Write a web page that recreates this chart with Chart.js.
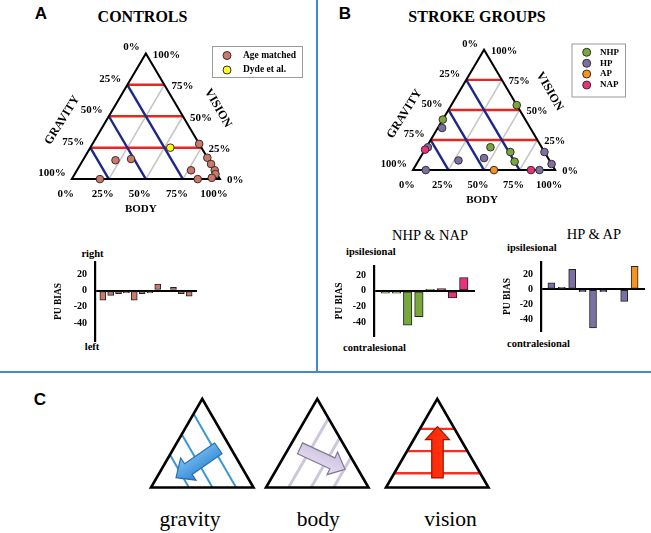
<!DOCTYPE html>
<html><head><meta charset="utf-8">
<script src="https://cdn.jsdelivr.net/npm/chart.js@4/dist/chart.umd.min.js"></script>
<style>
html,body{margin:0;padding:0;background:#fff;}
#wrap{position:relative;width:651px;height:533px;overflow:hidden;background:#fff;}
canvas{position:absolute;}
.t{position:absolute;white-space:nowrap;transform:translate(-50%,-50%);line-height:1;color:#000;font-family:"Liberation Serif","Times New Roman",serif;}
.l{transform:translate(0,-50%);}
.b{font-weight:bold;}
.sans{font-family:"Liberation Sans",Arial,sans-serif;}
.rule{position:absolute;background:#4389cc;}
</style></head><body><div id="wrap">
<div class="rule" style="left:316px;top:0;width:2px;height:372px"></div>
<div class="rule" style="left:0;top:371px;width:651px;height:2px"></div>

<div class="t sans b" style="left:41px;top:12.5px;font-size:17px">A</div>
<div class="t sans b" style="left:345px;top:12.5px;font-size:17px">B</div>
<div class="t sans b" style="left:40px;top:399px;font-size:17px">C</div>
<div class="t b" style="left:142.5px;top:16.7px;font-size:16px">CONTROLS</div>
<div class="t b" style="left:477px;top:16.5px;font-size:16px">STROKE GROUPS</div>

<div class="t b" style="left:92.5px;top:254px;font-size:10.5px">right</div>
<div class="t b" style="left:92px;top:347px;font-size:10.5px">left</div>
<div class="t" style="left:430px;top:234.7px;font-size:14.5px">NHP &amp; NAP</div>
<div class="t" style="left:594px;top:234px;font-size:14.5px">HP &amp; AP</div>
<div class="t l b" style="left:346px;top:251.7px;font-size:10.5px">ipsilesional</div>
<div class="t l b" style="left:507px;top:248.3px;font-size:10.5px">ipsilesional</div>
<div class="t l b" style="left:343px;top:347.7px;font-size:10.5px">contralesional</div>
<div class="t l b" style="left:507px;top:344px;font-size:10.5px">contralesional</div>

<div class="t" style="left:190px;top:520px;font-size:21.5px">gravity</div>
<div class="t" style="left:318.3px;top:520px;font-size:21.5px">body</div>
<div class="t" style="left:450.5px;top:520px;font-size:21.5px">vision</div>

<canvas id="triA"></canvas>
<canvas id="triB"></canvas>
<canvas id="barA"></canvas>
<canvas id="barB1"></canvas>
<canvas id="barB2"></canvas>
<canvas id="schem"></canvas>
</div>
<script>
// ================= DATA =================
const gridLevels = [25, 50, 75];
const tickValues = [0, 25, 50, 75, 100];
const tickLabels = ['0%', '25%', '50%', '75%', '100%'];

// Panel A – controls (percent weights; gravity = 100 - body - vision)
const ctrlBody   = [19, 22, 32, 72, 83, 88, 93, 95, 94, 77, 85];
const ctrlVision = [ 0, 15, 16, 28, 17, 12,  7,  4,  1,  7,  0];
const dydeBody   = [54];
const dydeVision = [25];

// Panel B – stroke groups
const nhpBody   = [0, 46, 45, 61, 68];
const nhpVision = [42, 54, 19, 15, 7];
const hpBody    = [3, 1, 9, 28, 45, 85, 95, 89];
const hpVision  = [35, 19, 0, 8, 10, 15, 5, 0];
const apBody    = [57];
const apVision  = [0];
const napBody   = [0, 83];
const napVision = [17, 0];

// PU bias bar charts
const ctrlBiasLabels = ['', 'C1', 'C2', 'C3', 'C4', 'C5', 'C6', 'C7', 'C8', 'C9', 'C10', 'C11', 'C12', ''];
const ctrlBias       = [null, -12, -6, -4, -3, -12, -4, -3, 8, 0, 4, -4, -7, null];
const nhpNapLabels   = ['', 'NHP1', 'NHP2', 'NHP3', 'NHP4', 'NHP5', 'NAP1', 'NAP2', 'NAP3', ''];
const nhpNapBias     = [null, -3, -3, -44, -33, 2, 3, -9, 17, null];
const hpApLabels     = ['', 'HP1', 'HP2', 'HP3', 'HP4', 'HP5', 'HP6', 'HP7', 'HP8', 'AP1', ''];
const hpApBias       = [null, 9, 3, 27, -3, -52, -3, 0, -16, 31, null];
const biasTicks      = [-40, -20, 0, 20];

// Panel C schematic line levels (fractions)
const cGravityLevels = [0.37, 0.6, 0.83];
const cBodyLevels    = [0.22, 0.44, 0.66];
const cVisionLevels  = [0.16, 0.41, 0.66];

// ================= STYLE =================
const SERIF = '"Liberation Serif", "Times New Roman", serif';
Chart.defaults.font.family = SERIF;
Chart.defaults.color = '#000';
const COL = {
  ctrl: '#c97a6a', dyde: '#ffff1a', nhp: '#77a83c', hp: '#7b70a3', ap: '#f7941d', nap: '#e8327a'
};

const SQ = Math.sqrt(3) / 2;
function tern(b, v) { return { x: (b + v / 2) / 100, y: (v * SQ) / 100 }; }
function pts(bs, vs) { return bs.map((b, i) => tern(b, vs[i])); }
function xRange(p0, ppu, start, size) { const min = (start - p0) / ppu; return { min, max: min + size / ppu }; }
function yRange(pBase, ppu, start, size) { const max = (pBase - start) / ppu; return { min: max - size / ppu, max }; }
function place(cv, box) {
  cv.width = box.w; cv.height = box.h;
  cv.style.left = box.left + 'px'; cv.style.top = box.top + 'px';
  cv.style.width = box.w + 'px'; cv.style.height = box.h + 'px';
}
const baseOpts = {
  animation: false, responsive: false, maintainAspectRatio: false, devicePixelRatio: 1, events: [],
  plugins: { legend: { display: false }, tooltip: { enabled: false } }
};

function ternaryChart(id, box, geom, sets, deco) {
  const cv = document.getElementById(id); place(cv, box);
  const ppu = geom.brx - geom.blx;
  const xr = xRange(geom.blx, ppu, box.left, box.w);
  const yr = yRange(geom.baseY, ppu, box.top, box.h);
  const ds = [];
  const L = (a, b, color, w, order) => ds.push({ data: [a, b], showLine: true, borderColor: color, borderWidth: w, pointRadius: 0, order, clip: false });
  gridLevels.forEach(t => L(tern(t, 0), tern(t, 100 - t), '#c6c6c6', 1.6, 50));
  gridLevels.forEach(t => L(tern(0, t), tern(100 - t, t), '#e8261f', 2.4, 40));
  gridLevels.forEach(t => L(tern(100 - t, 0), tern(0, 100 - t), '#1c2889', 2.4, 30));
  ds.push({ data: [tern(0, 0), tern(100, 0), tern(0, 100), tern(0, 0), tern(100, 0)], showLine: true,
    borderColor: '#000', borderWidth: 2, pointRadius: 0, order: 20, clip: false });
  sets.forEach((s, i) => ds.push({ label: s.label, data: s.data, backgroundColor: s.color, borderColor: '#3b2b2b',
    borderWidth: 1, pointRadius: 3.8, order: 10 - i, clip: false }));

  const labelPlugin = {
    id: 'ternLabels',
    afterDraw(chart) {
      const ctx = chart.ctx, X = chart.scales.x, Y = chart.scales.y;
      const P = p => ({ x: X.getPixelForValue(p.x), y: Y.getPixelForValue(p.y) });
      ctx.save();
      ctx.fillStyle = '#000';
      ctx.font = 'bold ' + deco.tickSize + 'px ' + SERIF;
      ctx.textBaseline = 'middle';
      tickValues.forEach((t, i) => {
        let p = P(tern(0, 100 - t)); ctx.textAlign = 'right'; ctx.fillText(tickLabels[i], p.x - 6, p.y - 6);
        p = P(tern(100 - t, t)); ctx.textAlign = 'left'; ctx.fillText(tickLabels[i], p.x + 7, p.y + 1.5);
        p = P(tern(t, 0)); ctx.textAlign = 'center'; ctx.fillText(tickLabels[i], p.x - 6, p.y + 15);
      });
      ctx.font = 'bold 12px ' + SERIF;
      const rot = (txt, p, d) => { ctx.save(); ctx.translate(p.x + d.dx, p.y + d.dy); ctx.rotate(d.rot * Math.PI / 180);
        ctx.textAlign = 'center'; ctx.fillText(txt, 0, 0); ctx.restore(); };
      rot('GRAVITY', P(tern(0, 50)), deco.gravity);
      rot('VISION', P(tern(50, 50)), deco.vision);
      ctx.font = 'bold 11px ' + SERIF;
      rot('BODY', P(tern(50, 0)), deco.body);
      // legend
      const lg = deco.legend;
      const ox = box.left, oy = box.top;
      ctx.fillStyle = '#fff'; ctx.strokeStyle = '#9a9a9a'; ctx.lineWidth = 1;
      ctx.fillRect(lg.x - ox, lg.y - oy, lg.w, lg.h);
      ctx.strokeRect(lg.x - ox + 0.5, lg.y - oy + 0.5, lg.w, lg.h);
      ctx.font = 'bold ' + lg.font + 'px ' + SERIF; ctx.textAlign = 'left';
      sets.forEach((s, i) => {
        const cy = lg.rows[i] - oy;
        ctx.beginPath(); ctx.arc(lg.cx - ox, cy, 4, 0, Math.PI * 2);
        ctx.fillStyle = s.color; ctx.fill(); ctx.strokeStyle = '#3b2b2b'; ctx.stroke();
        ctx.fillStyle = '#000'; ctx.fillText(s.label, lg.tx - ox, cy);
      });
      ctx.restore();
    }
  };
  return new Chart(cv, {
    type: 'scatter', data: { datasets: ds },
    options: Object.assign({}, baseOpts, { layout: { padding: 0 },
      scales: { x: { type: 'linear', display: false, min: xr.min, max: xr.max },
                y: { type: 'linear', display: false, min: yr.min, max: yr.max } } }),
    plugins: [labelPlugin]
  });
}

ternaryChart('triA', { left: 0, top: 28, w: 314, h: 195 }, { blx: 69, brx: 222, baseY: 182 }, [
  { label: 'Age matched', data: pts(ctrlBody, ctrlVision), color: COL.ctrl },
  { label: 'Dyde et al.', data: pts(dydeBody, dydeVision), color: COL.dyde }
], { tickSize: 11,
  gravity: { dx: -46.5, dy: 4, rot: -58 }, vision: { dx: 35, dy: -8, rot: 60 }, body: { dx: -5, dy: 30, rot: 0 },
  legend: { x: 212, y: 46, w: 90, h: 31, cx: 227, tx: 243, rows: [55.5, 70], font: 9.5 } });

ternaryChart('triB', { left: 320, top: 28, w: 331, h: 190 }, { blx: 410.7, brx: 557.3, baseY: 172.7 }, [
  { label: 'NHP', data: pts(nhpBody, nhpVision), color: COL.nhp },
  { label: 'HP', data: pts(hpBody, hpVision), color: COL.hp },
  { label: 'AP', data: pts(apBody, apVision), color: COL.ap },
  { label: 'NAP', data: pts(napBody, napVision), color: COL.nap }
], { tickSize: 10.5,
  gravity: { dx: -44, dy: 4, rot: -58 }, vision: { dx: 30, dy: -18.5, rot: 60 }, body: { dx: -2, dy: 30.5, rot: 0 },
  legend: { x: 571.5, y: 43.5, w: 53.5, h: 53, cx: 586.7, tx: 600, rows: [52.3, 63.3, 74, 85], font: 9 } });

// area = desired plot-area rectangle in page pixels
function barChart(id, area, labels, values, colorOf, yMin, yMax, axisW, titleX, thick) {
  const cv = document.getElementById(id);
  const build = (box) => {
    place(cv, box);
    return new Chart(cv, {
      type: 'bar',
      data: { labels, datasets: [{ data: values, backgroundColor: labels.map(colorOf), borderColor: '#222',
        borderWidth: 1, borderSkipped: false, barThickness: thick }] },
      options: Object.assign({}, baseOpts, {
        layout: { padding: { top: 2, bottom: 2, left: 0, right: 0 } },
        scales: {
          x: { display: false, offset: false },
          y: { min: yMin, max: yMax,
            afterFit(s) { s.width = axisW; },
            afterBuildTicks(s) { s.ticks = biasTicks.map(v => ({ value: v })); },
            border: { display: true, color: '#000', width: 2.2 },
            grid: { drawTicks: false, color: c => (c.tick && c.tick.value === 0) ? '#000' : 'rgba(0,0,0,0)', lineWidth: 2 },
            ticks: { padding: 8, color: '#000', font: { family: SERIF, weight: 'bold', size: 10 } },
            title: { display: true, text: 'PU BIAS', color: '#000', padding: { top: Math.max(0, titleX - (area.left - axisW) - 5.7), bottom: 0 },
              font: { family: SERIF, weight: 'bold', size: 9.5 } } } }
      })
    });
  };
  let box = { left: area.left - axisW, top: area.top - 10, w: axisW + (area.right - area.left), h: area.bottom - area.top + 20 };
  let ch = build(box);
  const ca = ch.chartArea;
  const padT = ca.top, padB = box.h - ca.bottom, padL = ca.left;
  ch.destroy();
  box = { left: area.left - padL, top: area.top - padT, w: padL + (area.right - area.left) + (box.w - ca.right),
          h: Math.round(padT + (area.bottom - area.top) + padB) };
  return build(box);
}
const groupColor = l => l.startsWith('NHP') ? COL.nhp : l.startsWith('NAP') ? COL.nap :
  l.startsWith('HP') ? COL.hp : l.startsWith('AP') ? COL.ap : COL.ctrl;
barChart('barA', { left: 95, right: 197, top: 262, bottom: 341 }, ctrlBiasLabels, ctrlBias, groupColor, -62, 35, 45, 58.3, 6);
barChart('barB1', { left: 374, right: 475, top: 266, bottom: 336 }, nhpNapLabels, nhpNapBias, groupColor, -58, 32, 45, 339.3, 8.5);
barChart('barB2', { left: 541, right: 645, top: 262, bottom: 331 }, hpApLabels, hpApBias, groupColor, -56, 37, 40, 508, 7);

// ================= PANEL C (schematics) =================
(function () {
  const box = { left: 130, top: 385, w: 380, h: 110 };
  const cv = document.getElementById('schem'); place(cv, box);
  const ppu = 102.5;
  const xr = xRange(151, ppu, box.left, box.w);
  const yr = yRange(487.5, ppu, box.top, box.h);
  const offs = [0, 115 / ppu, 235 / ppu];
  const P = (k, x, y) => ({ x: x + offs[k], y });
  const ds = [];
  const L = (a, b, color, w, order) => ds.push({ data: [a, b], showLine: true, borderColor: color, borderWidth: w, pointRadius: 0, order, clip: false });
  cGravityLevels.forEach(f => L(P(0, f, 0), P(0, f / 2, f * SQ), '#3b97d3', 2, 30));
  cBodyLevels.forEach(f => L(P(1, f, 0), P(1, f + (1 - f) / 2, (1 - f) * SQ), '#cdc7dc', 3, 30));
  cVisionLevels.forEach(h => L(P(2, h / 2, h * SQ), P(2, 1 - h / 2, h * SQ), '#ff2d1f', 2.4, 30));
  [0, 1, 2].forEach(k => ds.push({ data: [P(k, 0, 0), P(k, 1, 0), P(k, 0.5, SQ), P(k, 0, 0), P(k, 1, 0)], showLine: true,
    borderColor: '#000', borderWidth: 2.6, pointRadius: 0, order: 20, clip: false }));
  const arrows = [
    { k: 0, from: [0.657, 0.382], to: [0.244, 0.096], sw: 13, hw: 27, hl: 15, fill: ['#7cc0f2', '#2f86d6'], stroke: '#2a6fae' },
    { k: 1, from: [0.332, 0.382], to: [0.771, 0.178], sw: 12, hw: 25, hl: 14, fill: ['#e6def2', '#cbbfdf'], stroke: '#7f7a92' },
    { k: 2, from: [0.502, 0.093], to: [0.502, 0.593], sw: 11.5, hw: 24, hl: 13, fill: ['#ff3a14', '#ff2200'], stroke: '#a01200' }
  ];
  const arrowPlugin = {
    id: 'arrows',
    afterDatasetsDraw(chart) {
      const ctx = chart.ctx, X = chart.scales.x, Y = chart.scales.y;
      arrows.forEach(a => {
        const t = { x: X.getPixelForValue(a.from[0] + offs[a.k]), y: Y.getPixelForValue(a.from[1]) };
        const p = { x: X.getPixelForValue(a.to[0] + offs[a.k]), y: Y.getPixelForValue(a.to[1]) };
        const len = Math.hypot(p.x - t.x, p.y - t.y);
        const d = { x: (p.x - t.x) / len, y: (p.y - t.y) / len }, n = { x: -d.y, y: d.x };
        const h = { x: p.x - d.x * a.hl, y: p.y - d.y * a.hl };
        const q = (o, s) => [o.x + n.x * s, o.y + n.y * s];
        const poly = [q(t, a.sw / 2), q(h, a.sw / 2), q(h, a.hw / 2), [p.x, p.y], q(h, -a.hw / 2), q(h, -a.sw / 2), q(t, -a.sw / 2)];
        ctx.save();
        const g = ctx.createLinearGradient(q(t, a.hw / 2)[0], q(t, a.hw / 2)[1], q(t, -a.hw / 2)[0], q(t, -a.hw / 2)[1]);
        g.addColorStop(0, a.fill[0]); g.addColorStop(1, a.fill[1]);
        ctx.beginPath(); poly.forEach((pt, i) => i ? ctx.lineTo(pt[0], pt[1]) : ctx.moveTo(pt[0], pt[1])); ctx.closePath();
        ctx.fillStyle = g; ctx.fill(); ctx.strokeStyle = a.stroke; ctx.lineWidth = 1.2; ctx.lineJoin = 'miter'; ctx.stroke();
        ctx.restore();
      });
    }
  };
  new Chart(cv, {
    type: 'scatter', data: { datasets: ds },
    options: Object.assign({}, baseOpts, { layout: { padding: 0 },
      scales: { x: { type: 'linear', display: false, min: xr.min, max: xr.max },
                y: { type: 'linear', display: false, min: yr.min, max: yr.max } } }),
    plugins: [arrowPlugin]
  });
})();
</script>
</body></html>
